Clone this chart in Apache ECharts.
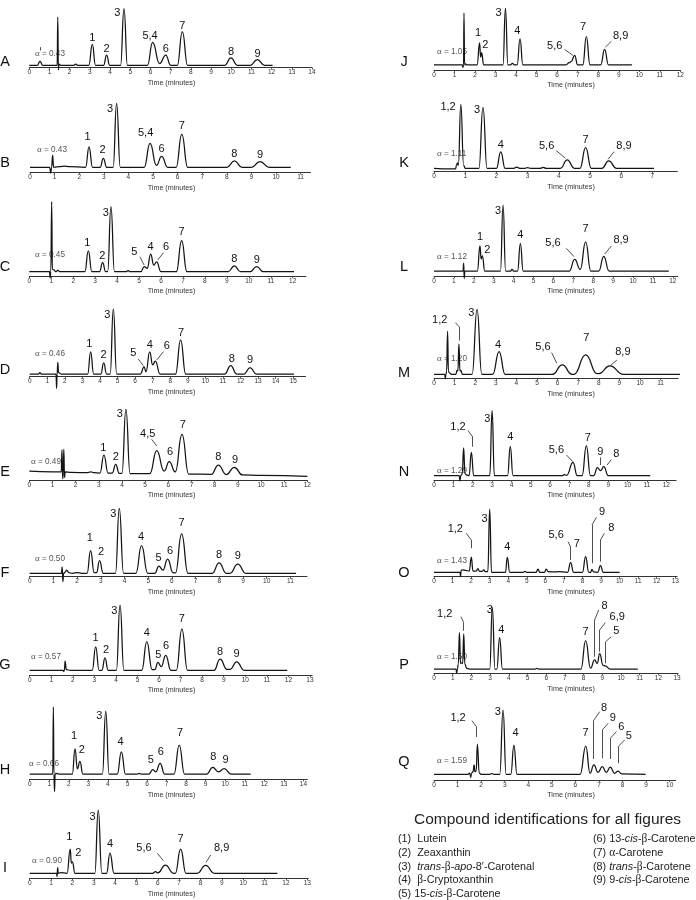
<!DOCTYPE html>
<html><head><meta charset="utf-8">
<script src="https://cdn.jsdelivr.net/npm/echarts@6/dist/echarts.min.js"></script>
<style>html,body{margin:0;padding:0;background:#fff}#c{width:696px;height:900px}</style>
</head><body><div id="c"></div>
<script>
// ---------- data ----------
const letters = ['A','B','C','D','E','F','G','H','I','J','K','L','M','N','O','P','Q'];
const alphas = ['0.43','0.43','0.45','0.46','0.49','0.50','0.57','0.66','0.90','1.05','1.11','1.12','1.20','1.29','1.43','1.50','1.59'];
const lastTick = [14,11,12,15,12,11,13,14,13,12,7,12,11,12,13,13,10];
const axisEnd = [14,11.4,12.6,15.7,12,11.7,13.1,14.2,13.05,12,7.8,12.25,11.85,12.5,13.1,13.05,10.25];

// chromatogram traces: [time (min), relative signal]
const traceA = [[0,0],[0.40,0],[0.53,7],[0.66,0],[1.38,0],[1.41,85],[1.44,-8],[1.47,2],[1.55,0],[2.2,0],[2.3,2],[2.4,0],[2.95,0],[3.12,37],[3.28,0],[3.68,0],[3.83,18],[3.98,0],[4.52,0],[4.69,100],[4.86,0],[5.85,0],[6.11,40.5],[6.45,3],[6.76,18],[7.0,0],[7.33,0],[7.58,59],[7.84,0],[9.68,0],[9.99,13],[10.3,0],[10.95,0],[11.29,10],[11.65,0],[12.05,0]];
const traceB = [[0,0],[0.80,0],[0.84,-9],[0.88,0],[0.92,19],[0.96,0],[1.2,1],[1.4,2],[1.6,1],[2.26,0],[2.40,32],[2.54,0],[2.85,0],[2.98,14],[3.12,0],[3.38,0],[3.52,100],[3.67,0],[4.64,0],[4.88,37.5],[5.14,3],[5.35,17],[5.6,0],[5.94,0],[6.17,51.5],[6.41,0],[8.0,0],[8.31,10],[8.62,0],[9.0,0],[9.35,9],[9.72,0],[10.6,0]];
const traceC = [[0,0],[0.92,0],[0.95,-9],[0.98,0],[1.02,108],[1.05,4],[1.12,3],[1.2,0],[1.3,2],[1.4,0],[2.53,0],[2.69,32],[2.85,0],[3.2,0],[3.34,14],[3.48,0],[3.57,0],[3.72,100],[3.88,0],[4.4,0],[4.5,1.5],[4.6,0],[5.08,0],[5.24,8],[5.37,5],[5.53,27],[5.67,10],[5.80,15],[6.0,0],[6.7,0],[6.94,48],[7.18,0],[9.06,0],[9.34,9],[9.62,0],[10.06,0],[10.36,8],[10.66,0],[12.06,0]];
const traceD = [[0,0],[0.5,0],[0.58,2],[0.66,0],[1.50,0],[1.53,-22],[1.56,0],[1.60,18],[1.64,2],[1.8,0],[3.30,0],[3.47,34],[3.64,0],[4.05,0],[4.21,17],[4.38,0],[4.58,0],[4.76,100],[4.95,0],[6.3,0],[6.51,11],[6.62,3.5],[6.83,34],[7.0,14],[7.15,20],[7.42,0],[8.3,0],[8.59,52],[8.88,0],[11.1,0],[11.44,13],[11.78,0],[12.2,0],[12.54,10],[12.9,0],[15.04,0]];
const traceE = [[0,4],[1.0,3],[1.38,3],[1.41,37],[1.44,-8],[1.47,2],[1.49,38],[1.52,-6],[1.55,3],[1.8,2],[2.5,1.5],[2.65,3],[2.8,1.5],[3.05,1],[3.22,29],[3.4,1],[3.58,1],[3.73,14.5],[3.88,0.5],[4.0,0.5],[4.17,100],[4.35,0],[5.2,0],[5.50,35.8],[5.82,4],[6.04,18.7],[6.3,3],[6.59,61],[6.88,-0.5],[7.85,-1],[8.16,13.5],[8.5,-1.3],[8.85,10],[9.2,-2],[10,-2.6],[12,-4.1]];
const traceF = [[0,0],[1.34,0],[1.37,10],[1.40,-13],[1.43,0],[1.5,2],[1.56,5],[1.65,1],[1.8,0],[2.0,1],[2.2,0],[2.42,0],[2.57,35],[2.72,1],[2.82,1],[2.95,19.5],[3.1,0],[3.62,0],[3.78,100],[3.96,0],[4.48,0],[4.72,42.5],[4.98,0],[5.28,0],[5.45,11],[5.62,5],[5.82,22],[6.05,1],[6.15,0.5],[6.41,60.5],[6.68,0],[7.7,0],[7.99,16],[8.3,0],[8.45,0],[8.78,14],[9.12,0],[11.24,0]];
const traceG = [[0,0],[1.55,0],[1.58,-2],[1.61,0],[1.64,14],[1.7,1],[1.9,0],[2.9,0],[3.06,36],[3.22,0],[3.35,0],[3.49,19],[3.64,0],[4.02,0],[4.19,100],[4.37,0],[5.2,0],[5.43,44],[5.68,1],[5.8,1],[5.95,12],[6.1,5.5],[6.31,23],[6.55,0],[6.8,0],[7.06,63],[7.32,0],[8.55,0],[8.83,17],[9.15,1.5],[9.3,1.5],[9.60,13],[9.95,0],[11.95,0]];
const traceH = [[0,0],[1.18,0],[1.21,106],[1.24,0],[1.27,-28],[1.30,0],[1.34,1],[1.5,0],[2.18,0],[2.32,40],[2.44,8],[2.57,20],[2.72,0],[3.72,0],[3.89,100],[4.06,0],[4.48,0],[4.69,35],[4.9,0],[5.5,0],[5.6,1],[5.7,0],[6.1,0],[6.29,7],[6.45,3.5],[6.67,17],[6.9,0],[7.38,0],[7.65,46],[7.92,0],[9.05,0],[9.36,10.5],[9.66,3.5],[9.95,8.5],[10.3,0],[11.3,0]];
const traceI = [[0,0],[1.26,0],[1.28,-5],[1.31,9],[1.34,0],[1.45,1],[1.75,0],[1.90,38],[1.95,16],[2.00,18],[2.12,0],[3.05,0],[3.21,100],[3.38,0],[3.6,0],[3.76,32],[3.95,0],[5.75,0],[5.9,2.5],[6.0,0.5],[6.35,13],[6.75,0],[6.82,0],[7.07,38],[7.32,0],[7.85,0],[8.24,12.6],[8.65,0],[11.6,0]];
const traceJ = [[0,0],[1.38,0],[1.41,-4],[1.44,0],[1.46,92],[1.49,0],[1.54,2],[1.6,0],[2.1,0],[2.22,39],[2.27,14],[2.32,22],[2.42,0],[3.36,0],[3.48,100],[3.6,0],[3.72,0],[3.82,3],[3.92,0],[4.05,0],[4.19,46],[4.33,0],[6.4,0],[6.6,4],[6.68,6],[6.85,17],[7.0,0],[7.25,0],[7.42,50],[7.6,0],[8.12,0],[8.31,27.5],[8.5,0],[9.64,0]];
const traceK = [[0,0],[0.55,-1],[0.69,-1],[0.72,5],[0.75,9],[0.78,5],[0.86,105],[0.95,5],[1.0,0],[1.44,0],[1.57,100],[1.70,0],[2.0,0],[2.14,27],[2.28,0],[2.55,0],[2.65,2],[2.75,0],[2.9,0],[3.0,1],[3.1,0],[3.4,0],[3.5,1.5],[3.6,0],[4.05,0],[4.27,13.7],[4.5,0],[4.68,0],[4.86,34],[5.04,0],[5.38,0],[5.6,12],[5.85,0],[7.05,0]];
const traceL = [[0,0],[1.46,0],[1.49,12],[1.52,-11],[1.55,0],[1.65,0],[2.18,0],[2.31,38],[2.37,18],[2.43,23],[2.55,0],[3.34,0],[3.47,100],[3.60,0],[3.85,0],[3.92,2.5],[4.0,0],[4.2,0],[4.34,42],[4.48,0],[6.8,0],[7.07,17.7],[7.35,2.5],[7.62,44],[7.88,0],[8.28,0],[8.53,22],[8.8,0],[11.8,0]];
const traceM = [[0,0],[0.52,0],[0.55,-7],[0.58,0],[0.61,4],[0.66,66],[0.70,4],[0.76,2],[0.85,0],[1.06,0],[1.12,6],[1.16,5],[1.21,47],[1.26,5],[1.3,6],[1.38,0],[1.85,0],[2.09,100],[2.32,0],[2.85,0],[3.16,35],[3.45,0],[5.75,0],[6.23,14.4],[6.7,0],[6.8,0],[7.36,30],[7.92,1],[8.0,1],[8.53,13],[9.2,0],[12.33,0]];
const traceN = [[0,0],[1.30,0],[1.34,-8],[1.38,0],[1.46,3],[1.53,43],[1.60,3],[1.7,1],[1.81,0],[1.93,36],[2.05,0],[2.88,0],[3.0,100],[3.12,0],[3.8,0],[3.94,45],[4.08,0],[6.6,0],[6.75,1.5],[6.85,0.5],[7.18,20.5],[7.4,0],[7.65,0],[7.87,46],[8.08,0],[8.25,0],[8.44,12.3],[8.6,7.7],[8.77,13.8],[9.0,0],[11.17,0]];
const traceO = [[0,0],[1.40,0],[1.43,-7],[1.46,3],[1.55,4],[1.7,3],[1.9,2],[2.01,24],[2.1,2],[2.28,2],[2.36,6],[2.45,1.5],[2.6,1.5],[2.68,4],[2.76,1],[2.9,1],[3.0,100],[3.1,0],[3.85,0],[3.95,23.7],[4.08,0],[4.8,0],[4.9,1.5],[5.0,0],[5.5,0],[5.6,5],[5.7,0],[5.95,0],[6.05,5],[6.15,1],[6.5,0.5],[6.7,1],[7.2,0],[7.36,15.3],[7.52,0],[8.0,0],[8.17,24.7],[8.34,0],[8.44,0],[8.51,4.7],[8.6,0.5],[8.82,0],[8.97,10.5],[9.12,0],[10.0,0]];
const traceP = [[0,0],[1.18,0],[1.21,-7],[1.25,0],[1.30,8],[1.36,59],[1.42,9],[1.48,10],[1.53,9],[1.59,57],[1.65,8],[1.75,1],[1.9,0],[2.98,0],[3.12,100],[3.26,0],[3.36,0],[3.51,51],[3.66,0],[5.4,0],[5.5,1],[5.6,0],[7.86,0],[8.11,46],[8.37,1.5],[8.59,14.6],[8.73,9],[8.86,25],[9.04,6],[9.16,5],[9.4,0],[10.9,0]];
const traceQ = [[0,0],[1.45,0],[1.5,2],[1.53,0],[1.56,-4.7],[1.59,2],[1.66,4],[1.70,14.5],[1.74,4],[1.79,5],[1.84,47],[1.92,2],[2.0,0],[2.35,0],[2.45,1],[2.55,0],[2.79,0],[2.93,100],[3.06,0],[3.26,0],[3.39,45.5],[3.52,0],[6.2,0],[6.44,44],[6.62,1.5],[6.78,14.5],[6.96,3],[7.14,12],[7.31,3],[7.48,11],[7.66,1.5],[7.81,5],[7.96,0.5],[8.98,0]];

// peak identifications: [text, time, signal] of the label centre
const tagsA = [['1',3.12,48],['2',3.83,29],['3',4.36,92],['5,4',5.98,51.6],['6',6.76,29],['7',7.58,69.5],['8',9.99,23.7],['9',11.31,20]];
const tagsB = [['1',2.34,48],['2',2.95,27],['3',3.25,90.6],['5,4',4.7,54],['6',5.35,28],['7',6.17,64.6],['8',8.31,20.8],['9',9.35,19.3]];
const tagsC = [['1',2.64,44.6],['2',3.33,24],['3',3.49,90],['5',4.78,30.8],['4',5.53,38.5],['6',6.23,38.5],['7',6.94,61.5],['8',9.34,19],['9',10.36,18]];
const tagsD = [['1',3.39,46],['2',4.21,29],['3',4.42,90.8],['5',5.9,31.8],['4',6.83,44.6],['6',7.8,43],['7',8.61,63.6],['8',11.5,22.6],['9',12.54,21.5]];
const tagsE = [['1',3.19,39.4],['2',3.73,25.4],['3',3.91,92.7],['4,5',5.11,61.7],['6',6.07,34.2],['7',6.62,75.6],['8',8.16,25.4],['9',8.88,21.2]];
const tagsF = [['1',2.54,53.8],['2',3.01,33.3],['3',3.53,91.3],['4',4.70,56.4],['5',5.44,23],['6',5.92,34.9],['7',6.41,77],['8',7.99,28.2],['9',8.78,26.7]];
const tagsG = [['1',3.06,49],['2',3.54,31],['3',3.93,91.3],['4',5.43,57.7],['5',5.97,23.5],['6',6.32,37.2],['7',7.06,78],['8',8.83,28.6],['9',9.6,25]];
const tagsH = [['1',2.27,60.3],['2',2.66,38],['3',3.56,92.6],['4',4.65,51.3],['5',6.2,22.2],['6',6.7,35.4],['7',7.69,65.6],['8',9.39,27.5],['9',10.02,22.2]];
const tagsI = [['1',1.86,56.8],['2',2.28,31.6],['3',2.95,89.5],['4',3.76,46.3],['5,6',5.35,39.5],['7',7.07,53.7],['8,9',8.99,39.5]];
const tagsJ = [['1',2.14,56],['2',2.5,36],['3',3.15,92],['4',4.06,61],['5,6',5.88,34],['7',7.26,68],['8,9',9.09,51]];
const tagsK = [['1,2',0.45,100],['3',1.38,95.6],['4',2.14,38],['5,6',3.61,37],['7',4.86,46.4],['8,9',6.09,37]];
const tagsL = [['1',2.31,52],['2',2.68,31.8],['3',3.22,91.4],['4',4.34,54.5],['5,6',5.98,42],['7',7.62,63],['8,9',9.4,47]];
const tagsM = [['1,2',0.28,83.6],['3',1.81,93.8],['4',3.11,45],['5,6',5.29,42.6],['7',7.39,55.4],['8,9',9.17,34.9]];
const tagsN = [['1,2',1.24,75.4],['3',2.76,86.7],['4',3.94,59],['5,6',6.32,39.5],['7',7.95,57.4],['9',8.59,37],['8',9.42,33.3]];
const tagsO = [['1,2',1.15,68],['3',2.73,85],['4',3.95,40.5],['5,6',6.58,59],['7',7.7,44.7],['9',9.05,95],['8',9.56,69.5]];
const tagsP = [['1,2',0.57,90],['3',2.99,95.7],['4',3.6,63],['7',8.11,59.5],['8',9.12,102.7],['6,9',9.8,84.9],['5',9.75,62.2]];
const tagsQ = [['1,2',1.02,87],['3',2.71,96.4],['4',3.46,64.8],['7',6.43,64.8],['8',7.21,103.6],['9',7.59,87],['6',7.95,73],['5',8.27,60]];

// leader lines from labels to peaks: [[t1,s1],[t2,s2]]
const leadsA = [[[0.53,26],[0.53,32]]];
const leadsB = [];
const leadsC = [[[5.04,23],[5.23,10.3]],[[6.11,29.2],[5.85,18]]];
const leadsD = [[[6.18,23],[6.47,12.8]],[[7.61,34.4],[7.23,21.5]]];
const leadsE = [[[5.28,53.4],[5.50,43]]];
const leadsF = [];
const leadsG = [];
const leadsH = [];
const leadsI = [[[5.98,31.6],[6.26,20]],[[8.48,29],[8.26,17.4]]];
const leadsJ = [[[6.36,27.5],[6.77,17]],[[8.64,42],[8.35,31.6]]];
const leadsK = [[[3.92,29],[4.21,16.4]],[[5.77,27.3],[5.58,14.8]]];
const leadsL = [[[6.65,34.3],[7.04,21.7]],[[8.91,37.9],[8.58,25.8]]];
const leadsM = [[[1.04,79.5],[1.21,73.3]],[[1.21,73.3],[1.21,52]],[[5.71,33.3],[5.96,17]],[[8.88,22],[8.56,13.3]]];
const leadsN = [[[1.76,69.2],[1.96,61]],[[1.96,61],[1.96,44.6]],[[6.84,31.8],[7.18,21.5]],[[8.59,28.2],[8.59,16.4]],[[9.16,25],[8.94,16.4]]];
const leadsO = [[[1.74,61.6],[2.01,51]],[[2.01,51],[2.01,38]],[[7.22,48.4],[7.36,40.5]],[[7.36,40.5],[7.36,19.5]],[[8.75,86.8],[8.51,74.7]],[[8.51,74.7],[8.51,14.2]],[[9.18,61.6],[8.97,51]],[[8.97,51],[8.97,16.8]]];
const leadsP = [[[1.44,84.9],[1.59,75.1]],[[1.59,75.1],[1.59,62]],[[8.81,95.7],[8.59,79.5]],[[8.59,79.5],[8.59,20]],[[9.16,75.1],[8.86,63.2]],[[8.86,63.2],[8.86,28.1]],[[9.48,52.4],[9.18,44.3]],[[9.18,44.3],[9.18,9.2]]];
const leadsQ = [[[1.61,83.4],[1.80,74]],[[1.80,74],[1.80,58]],[[7.03,97.4],[6.77,83.4]],[[6.77,83.4],[6.77,23.8]],[[7.39,79.3],[7.14,68.9]],[[7.14,68.9],[7.14,24.9]],[[7.74,66.3],[7.48,56]],[[7.48,56],[7.48,23.8]],[[8.09,53.4],[7.81,43]],[[7.81,43],[7.81,17]]];

const compoundsLeft = ['(1)  Lutein','(2)  Zeaxanthin','(3)  {i|trans}-{g|β}-{i|apo}-8′-Carotenal','(4)  {g|β}-Cryptoxanthin','(5) 15-{i|cis}-{g|β}-Carotene'];
const compoundsRight = ['(6) 13-{i|cis}-{g|β}-Carotene','(7) {g|α}-Carotene','(8) {i|trans}-{g|β}-Carotene','(9) 9-{i|cis}-{g|β}-Carotene'];

const traces = [traceA,traceB,traceC,traceD,traceE,traceF,traceG,traceH,traceI,traceJ,traceK,traceL,traceM,traceN,traceO,traceP,traceQ];
const tags = [tagsA,tagsB,tagsC,tagsD,tagsE,tagsF,tagsG,tagsH,tagsI,tagsJ,tagsK,tagsL,tagsM,tagsN,tagsO,tagsP,tagsQ];
const leads = [leadsA,leadsB,leadsC,leadsD,leadsE,leadsF,leadsG,leadsH,leadsI,leadsJ,leadsK,leadsL,leadsM,leadsN,leadsO,leadsP,leadsQ];

// ---------- layout (pixels) ----------
const gridLeft = [29.3,30,29.3,29.7,29.3,29.7,29.7,29.7,29.7,434,434,434,434,434,434,434,434];
const pxPerMin = [20.19,24.6,21.95,17.57,23.17,23.7,21.56,19.55,21.35,20.53,31.2,19.9,20.6,19.36,18.56,18.7,23.57];
const axisY = [67.7,172.3,276,376.7,480,576.7,675,779.3,878.3,70,171.7,276,378.3,480,576.7,673.3,780];
const baseY = [65,167.3,271.7,374,473.7,573.3,670.3,774,873.3,64.3,168.3,271,374.3,475.7,572.3,669,774.3];
const topY = [1.7,103.3,206.7,309,409.3,508.3,605,711,810,0,107.3,205,309.3,410.7,509,607.3,710];
const letterPos = [[5,62],[5,163],[5,267],[5,370],[5,472],[5,573],[5,665],[5,770],[5,868],[404,62],[404,163],[404,267],[404,373],[404,472],[404,573],[404,665],[404,762]];
const alphaPos = [[35,54],[37,150],[35,255],[35,354],[31,462],[35,559],[31,657],[29,764],[32,861],[437,52],[437,154],[437,257],[437,359],[437,471],[437,561],[437,657],[437,761]];
const nameCenterX = [171.5, 571];

const FONT = '"Liberation Sans", Arial, Helvetica, sans-serif';
const SERIF = '"Liberation Serif", "Times New Roman", serif';
const YMAX = 115;

const grids = [], xAxes = [], yAxes = [], series = [];
letters.forEach((L, i) => {
  const unit = (baseY[i] - topY[i]) / 100;
  const top = baseY[i] - unit * YMAX;
  const width = axisEnd[i] * pxPerMin[i];
  grids.push({left: gridLeft[i], top: top, width: width, height: axisY[i] - top, containLabel: false});
  const ticks = [];
  for (let k = 0; k <= lastTick[i]; k++) ticks.push(k);
  const shift = nameCenterX[i < 9 ? 0 : 1] - (gridLeft[i] + width / 2);
  xAxes.push({
    type: 'value', gridIndex: i, min: 0, max: axisEnd[i], position: 'bottom',
    axisLine: {onZero: false, lineStyle: {color: '#333', width: 1}},
    axisTick: {show: true, length: 2, customValues: ticks, lineStyle: {color: '#333', width: 0.8}},
    axisLabel: {customValues: ticks, fontSize: 6.5, margin: 1.5, color: '#333', fontFamily: FONT},
    splitLine: {show: false},
    name: 'Time (minutes)', nameLocation: 'middle', nameGap: 12,
    nameTextStyle: {fontSize: 7.2, color: '#333', fontFamily: FONT,
      padding: shift >= 0 ? [0, 0, 0, 2 * shift] : [0, -2 * shift, 0, 0]}
  });
  yAxes.push({type: 'value', gridIndex: i, min: -(axisY[i] - baseY[i]) / unit, max: YMAX, show: false, splitLine: {show: false}});
  series.push({
    type: 'line', xAxisIndex: i, yAxisIndex: i, data: traces[i],
    smooth: 0.5, smoothMonotone: 'x', showSymbol: false, symbol: 'none', clip: false, silent: true,
    lineStyle: {color: '#141414', width: 1.25},
    markPoint: {
      symbol: 'circle', symbolSize: 1, silent: true, animation: false,
      itemStyle: {color: 'rgba(0,0,0,0)'},
      label: {show: true, position: 'inside', formatter: '{b}', fontSize: 11, color: '#111', fontFamily: FONT},
      data: tags[i].map(g => ({name: g[0], coord: [g[1], g[2]]}))
    },
    markLine: {
      symbol: ['none', 'none'], silent: true, animation: false,
      label: {show: false}, lineStyle: {color: '#222', width: 0.8, type: 'solid'},
      emphasis: {disabled: true},
      data: leads[i].map(s => [{coord: s[0]}, {coord: s[1]}])
    }
  });
});

const graphic = [];
letters.forEach((L, i) => {
  graphic.push({type: 'text', x: letterPos[i][0], y: letterPos[i][1], silent: true,
    style: {text: L, fontSize: 14.5, fontFamily: FONT, fill: '#111', align: 'center', verticalAlign: 'middle'}});
  graphic.push({type: 'text', x: alphaPos[i][0], y: alphaPos[i][1], silent: true,
    style: {text: '{g|α} = ' + alphas[i], fontSize: 8.2, fontFamily: FONT, fill: '#555', verticalAlign: 'middle',
      rich: {g: {fontFamily: SERIF, fontSize: 9, fill: '#555'}}}});
});
graphic.push({type: 'text', x: 547.5, y: 820, silent: true,
  style: {text: 'Compound identifications for all figures', fontSize: 15.5, fontFamily: FONT, fill: '#222', align: 'center', verticalAlign: 'middle'}});
const richItem = {i: {fontStyle: 'italic', fontSize: 10.8, fontFamily: FONT, fill: '#222'}, g: {fontFamily: SERIF, fontSize: 11.5, fill: '#222'}};
compoundsLeft.forEach((t, k) => graphic.push({type: 'text', x: 398, y: 839.3 + k * 13.7, silent: true,
  style: {text: t, fontSize: 10.8, fontFamily: FONT, fill: '#222', verticalAlign: 'middle', rich: richItem}}));
compoundsRight.forEach((t, k) => graphic.push({type: 'text', x: 593, y: 839.3 + k * 13.7, silent: true,
  style: {text: t, fontSize: 10.8, fontFamily: FONT, fill: '#222', verticalAlign: 'middle', rich: richItem}}));

const chart = echarts.init(document.getElementById('c'), null, {renderer: 'canvas'});
chart.setOption({
  animation: false,
  backgroundColor: '#fff',
  textStyle: {fontFamily: FONT},
  grid: grids, xAxis: xAxes, yAxis: yAxes, series: series, graphic: graphic
});
</script>
</body></html>
